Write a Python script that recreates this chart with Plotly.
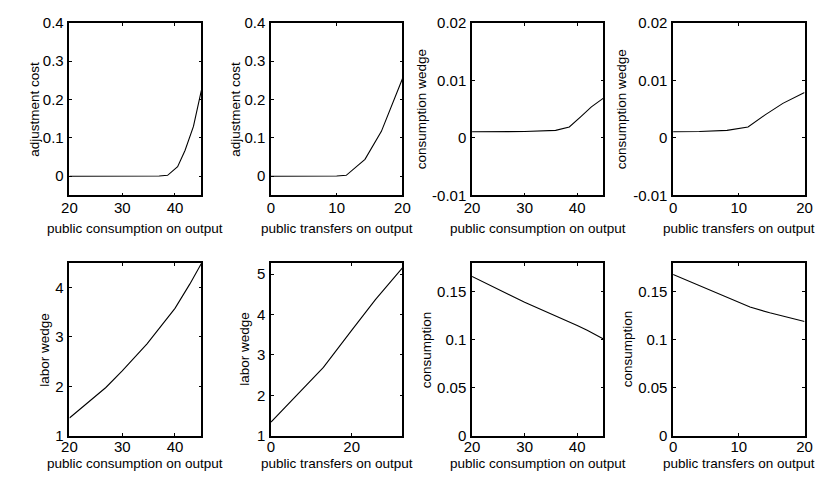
import plotly.graph_objects as go

W, H = 832, 479

# ---------------- data ----------------
# public consumption on output (x) vs adjustment cost
pc_x_cost = [20, 25, 30, 35, 37, 38.6, 40.5, 41.9, 43.5, 45]
pc_cost = [0, 0, 0, 0, 0.0005, 0.0025, 0.025, 0.067, 0.13, 0.224]
# public transfers on output vs adjustment cost
pt_x_cost = [0, 4, 8, 10, 11.45, 14.3, 16.8, 18.7, 20]
pt_cost = [0, 0, 0, 0.0005, 0.0025, 0.044, 0.117, 0.197, 0.254]
# consumption wedge
pc_x_cw = [20, 25, 30, 35.9, 38.5, 40.7, 42.7, 45]
pc_cw = [0.00106, 0.0011, 0.0011, 0.0013, 0.0019, 0.0037, 0.0054, 0.0069]
pt_x_cw = [0, 4, 8.2, 11.4, 14, 16.7, 20]
pt_cw = [0.00106, 0.0011, 0.0013, 0.0019, 0.0040, 0.0060, 0.0079]
# labor wedge
pc_x_lw = [20, 26.9, 30, 34.7, 40, 42.8, 45]
pc_lw = [1.357, 1.975, 2.31, 2.86, 3.58, 4.07, 4.49]
pt_x_lw = [0, 6.5, 13, 20, 25.9, 32.6]
pt_lw = [1.335, 2.01, 2.69, 3.61, 4.37, 5.16]
# consumption
pc_x_c = [20, 30, 40, 41.9, 45]
pc_c = [0.166, 0.139, 0.1148, 0.1098, 0.1007]
pt_x_c = [0, 11.7, 14.7, 20]
pt_c = [0.168, 0.134, 0.128, 0.119]

xlab_pc = "public consumption on output"
xlab_pt = "public transfers on output"

EPS = 1e-7
panels = [
    dict(x=pc_x_cost, y=pc_cost, xr=[20, 45], xt=[20, 30, 40], yr=[-0.05, 0.4],
         yt=[0, 0.1, 0.2, 0.3, 0.4], ytt=["0", "0.1", "0.2", "0.3", "0.4"],
         xl=xlab_pc, yl="adjustment cost", ylx=18),
    dict(x=pt_x_cost, y=pt_cost, xr=[0, 20], xt=[0, 10, 20], yr=[-0.05, 0.4],
         yt=[0, 0.1, 0.2, 0.3, 0.4], ytt=["0", "0.1", "0.2", "0.3", "0.4"],
         xl=xlab_pt, yl="adjustment cost", ylx=223),
    dict(x=pc_x_cw, y=pc_cw, xr=[20, 45], xt=[20, 30, 40], yr=[-0.01, 0.02],
         yt=[-0.01, 0, 0.01, 0.02], ytt=["-0.01", "0", "0.01", "0.02"],
         xl=xlab_pc, yl="consumption wedge", ylx=413),
    dict(x=pt_x_cw, y=pt_cw, xr=[0, 20], xt=[0, 10, 20], yr=[-0.01, 0.02],
         yt=[-0.01, 0, 0.01, 0.02], ytt=["-0.01", "0", "0.01", "0.02"],
         xl=xlab_pt, yl="consumption wedge", ylx=617),
    dict(x=pc_x_lw, y=pc_lw, xr=[20, 45], xt=[20, 30, 40], yr=[1, 4.5],
         yt=[1, 2, 3, 4], ytt=["1", "2", "3", "4"],
         xl=xlab_pc, yl="labor wedge", ylx=29),
    dict(x=pt_x_lw, y=pt_lw, xr=[0, 32.6], xt=[0, 20], yr=[1, 5.28],
         yt=[1, 2, 3, 4, 5], ytt=["1", "2", "3", "4", "5"],
         xl=xlab_pt, yl="labor wedge", ylx=233),
    dict(x=pc_x_c, y=pc_c, xr=[20, 45], xt=[20, 30, 40], yr=[0, 0.18],
         yt=[0, 0.05, 0.1, 0.15], ytt=["0", "0.05", "0.1", "0.15"],
         xl=xlab_pc, yl="consumption", ylx=418),
    dict(x=pt_x_c, y=pt_c, xr=[0, 20], xt=[0, 10, 20], yr=[0, 0.18],
         yt=[0, 0.05, 0.1, 0.15], ytt=["0", "0.05", "0.1", "0.15"],
         xl=xlab_pt, yl="consumption", ylx=623),
]

col_px = [(54.5, 189), (260, 394), (465, 599), (670, 804)]
row_px = [(6, 185), (255, 434)]
xlab_y = [219, 463]
xtick_standoff = [-2, -3]

FONT = "Liberation Sans, Arial, sans-serif"
FS = 13.5
TFS = 15

fig = go.Figure()
layout = dict(
    width=W, height=H,
    margin=dict(l=0, r=0, t=0, b=0),
    paper_bgcolor="white", plot_bgcolor="white",
    showlegend=False,
    font=dict(family=FONT, size=FS, color="black"),
)
annotations = []

for i, p in enumerate(panels):
    r, c = divmod(i, 4)
    n = i + 1
    xa = "xaxis" if n == 1 else f"xaxis{n}"
    ya = "yaxis" if n == 1 else f"yaxis{n}"
    xref = "x" if n == 1 else f"x{n}"
    yref = "y" if n == 1 else f"y{n}"
    x0, x1 = col_px[c]
    y0, y1 = row_px[r]
    common = dict(showline=True, linecolor="black", linewidth=1.5, mirror="ticks",
                  ticks="inside", ticklen=3, tickwidth=1, tickcolor="black",
                  showgrid=False, zeroline=False, fixedrange=True,
                  ticklabeloverflow="allow",
                  tickfont=dict(family=FONT, size=TFS, color="black"))
    xr = [p["xr"][0] - EPS, p["xr"][1] + EPS]
    yr = [p["yr"][0] - EPS * 1e-3, p["yr"][1] + EPS * 1e-3]
    layout[xa] = dict(domain=[x0 / W, x1 / W], anchor=yref, range=xr,
                      tickvals=p["xt"], ticktext=[str(v) for v in p["xt"]],
                      ticklabelstandoff=xtick_standoff[r], **common)
    layout[ya] = dict(domain=[1 - y1 / H, 1 - y0 / H], anchor=xref, range=yr,
                      tickvals=p["yt"], ticktext=p["ytt"], ticklabelstandoff=1,
                      **common)
    fig.add_trace(go.Scatter(x=p["x"], y=p["y"], mode="lines",
                             line=dict(color="black", width=1.1),
                             xaxis=xref, yaxis=yref, hoverinfo="skip"))
    annotations.append(dict(text=p["xl"], xref="paper", yref="paper",
                            x=(x0 + x1) / 2 / W, y=1 - xlab_y[r] / H,
                            xanchor="center", yanchor="middle", showarrow=False,
                            font=dict(family=FONT, size=FS, color="black")))
    annotations.append(dict(text=p["yl"], xref="paper", yref="paper",
                            x=p["ylx"] / W, y=1 - (y0 + y1) / 2 / H,
                            xanchor="center", yanchor="middle", showarrow=False,
                            textangle=-90,
                            font=dict(family=FONT, size=FS, color="black")))

layout["annotations"] = annotations
fig.update_layout(**layout)
fig.write_html("out.html")
